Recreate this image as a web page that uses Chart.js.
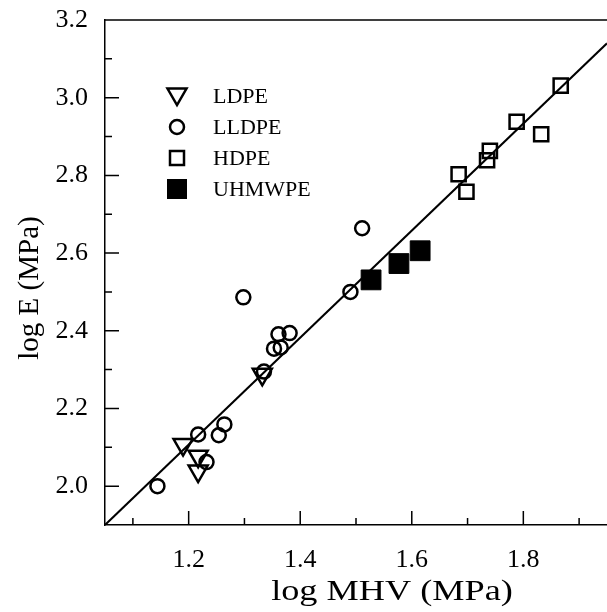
<!DOCTYPE html>
<html><head><meta charset="utf-8">
<script src="https://cdn.jsdelivr.net/npm/chart.js@4.4.0/dist/chart.umd.min.js"></script>
<style>html,body{margin:0;padding:0;background:#fff}#wrap{width:607px;height:612px}</style>
</head><body><div id="wrap"><canvas id="c" width="607" height="612"></canvas></div>
<script>
// ---- data (log MHV, log E) ----
const ldpeX = [1.190, 1.217, 1.217, 1.332];
const ldpeY = [2.107, 2.077, 2.039, 2.288];
const lldpeX = [1.144, 1.232, 1.217, 1.254, 1.264, 1.298, 1.353, 1.365, 1.361, 1.381, 1.490, 1.511, 1.335];
const lldpeY = [2.000, 2.062, 2.133, 2.131, 2.159, 2.486, 2.354, 2.357, 2.391, 2.394, 2.500, 2.664, 2.295];
const hdpeX = [1.684, 1.698, 1.735, 1.740, 1.788, 1.832, 1.867];
const hdpeY = [2.803, 2.758, 2.839, 2.863, 2.938, 2.906, 3.031];
const uhmwpeX = [1.527, 1.577, 1.615];
const uhmwpeY = [2.531, 2.573, 2.606];
const fitX = [1.05, 1.95];
const fitY = [1.90, 3.14];
const seriesNames = ['LDPE', 'LLDPE', 'HDPE', 'UHMWPE'];
const xTickValues = [1.1, 1.2, 1.3, 1.4, 1.5, 1.6, 1.7, 1.8, 1.9];
const xTickLabels = ['', '1.2', '', '1.4', '', '1.6', '', '1.8', ''];
const yTickValues = [2.0, 2.1, 2.2, 2.3, 2.4, 2.5, 2.6, 2.7, 2.8, 2.9, 3.0, 3.1, 3.2];
const yTickLabels = ['2.0', '', '2.2', '', '2.4', '', '2.6', '', '2.8', '', '3.0', '', '3.2'];
const xTitle = 'log MHV (MPa)';
const yTitle = 'log E (MPa)';

const pts = (xs, ys) => xs.map((x, i) => ({x: x, y: ys[i]}));
const FONT = '"Liberation Serif", "Times New Roman", serif';

const tickPlugin = {
  id: 'inTicks',
  afterDraw(chart) {
    const ctx = chart.ctx, ca = chart.chartArea;
    const xs = chart.scales.x, ys = chart.scales.y;
    ctx.save();
    ctx.strokeStyle = '#000';
    ctx.lineWidth = 1.5;
    ctx.beginPath();
    xTickValues.forEach((v, i) => {
      const p = xs.getPixelForValue(v);
      const len = xTickLabels[i] ? 14 : 7;
      ctx.moveTo(p, ca.bottom); ctx.lineTo(p, ca.bottom - len);
    });
    yTickValues.forEach((v, i) => {
      const p = ys.getPixelForValue(v);
      const len = yTickLabels[i] ? 14 : 7;
      ctx.moveTo(ca.left, p); ctx.lineTo(ca.left + len, p);
    });
    ctx.moveTo(ca.left, ca.top); ctx.lineTo(ca.right, ca.top);
    ctx.stroke();
    // axis titles
    ctx.fillStyle = '#000';
    ctx.textAlign = 'center';
    ctx.textBaseline = 'alphabetic';
    ctx.font = '29px ' + FONT;
    ctx.save();
    ctx.translate(392, 600);
    ctx.scale(1.25, 1);
    ctx.fillText(xTitle, 0, 0);
    ctx.restore();
    ctx.save();
    ctx.translate(38, 288);
    ctx.rotate(-Math.PI / 2);
    ctx.fillText(yTitle, 0, 0);
    ctx.restore();
    ctx.restore();
  }
};

const legendPlugin = {
  id: 'inLegend',
  afterDatasetsDraw(chart) {
    const ctx = chart.ctx;
    const mx = 177, tx = 213, y0 = 96, dy = 31;
    ctx.save();
    ctx.strokeStyle = '#000'; ctx.fillStyle = '#000'; ctx.lineWidth = 2.5;
    seriesNames.forEach((name, i) => {
      const y = y0 + i * dy;
      ctx.beginPath();
      if (i === 0) {
        const r = 11, cy = y - 2;
        ctx.moveTo(mx - r * 0.866, cy - r * 0.5);
        ctx.lineTo(mx + r * 0.866, cy - r * 0.5);
        ctx.lineTo(mx, cy + r);
        ctx.closePath(); ctx.stroke();
      } else if (i === 1) {
        ctx.arc(mx, y, 7, 0, Math.PI * 2); ctx.stroke();
      } else if (i === 2) {
        ctx.rect(mx - 7, y - 7, 14, 14); ctx.stroke();
      } else {
        ctx.rect(mx - 10, y - 10, 20, 20); ctx.fill();
      }
      ctx.font = '22px ' + FONT;
      ctx.textBaseline = 'middle';
      ctx.textAlign = 'left';
      ctx.fillText(name, tx, y + 1);
    });
    ctx.restore();
  }
};

new Chart(document.getElementById('c'), {
  type: 'scatter',
  data: {
    datasets: [
      { label: 'fit', type: 'line', data: pts(fitX, fitY), borderColor: '#000', borderWidth: 2,
        pointRadius: 0, fill: false, tension: 0, order: 5 },
      { label: seriesNames[0], data: pts(ldpeX, ldpeY), pointStyle: 'triangle', rotation: 180,
        pointRadius: 11, borderColor: '#000', borderWidth: 2.5, backgroundColor: 'rgba(0,0,0,0)' },
      { label: seriesNames[1], data: pts(lldpeX, lldpeY), pointStyle: 'circle',
        pointRadius: 7, borderColor: '#000', borderWidth: 2.5, backgroundColor: 'rgba(0,0,0,0)' },
      { label: seriesNames[2], data: pts(hdpeX, hdpeY), pointStyle: 'rect',
        pointRadius: 10, borderColor: '#000', borderWidth: 2.5, backgroundColor: 'rgba(0,0,0,0)' },
      { label: seriesNames[3], data: pts(uhmwpeX, uhmwpeY), pointStyle: 'rect',
        pointRadius: 14, borderColor: '#000', borderWidth: 1, backgroundColor: '#000' }
    ]
  },
  options: {
    responsive: false, animation: false, devicePixelRatio: 1,
    layout: { autoPadding: false, padding: { top: 20, right: 0, left: 0, bottom: 0 } },
    plugins: { legend: { display: false }, tooltip: { enabled: false } },
    scales: {
      x: {
        type: 'linear', min: 1.05, max: 1.95,
        afterBuildTicks: s => { s.ticks = xTickValues.map(v => ({ value: v })); },
        afterFit: s => { s.height = 87; s.paddingLeft = 0; s.paddingRight = 0; },
        ticks: { autoSkip: false, maxRotation: 0, color: '#000', padding: 20,
          font: { family: FONT, size: 26 },
          callback: (v, i) => xTickLabels[i] },
        grid: { display: false, drawTicks: false },
        border: { display: true, color: '#000', width: 1.5 },
        title: { display: false }
      },
      y: {
        type: 'linear', min: 1.9, max: 3.2,
        afterBuildTicks: s => { s.ticks = yTickValues.map(v => ({ value: v })); },
        afterFit: s => { s.width = 105; s.paddingTop = 0; s.paddingBottom = 0; },
        ticks: { autoSkip: false, color: '#000', padding: 17,
          font: { family: FONT, size: 26 },
          callback: (v, i) => yTickLabels[i] },
        grid: { display: false, drawTicks: false },
        border: { display: true, color: '#000', width: 1.5 },
        title: { display: false }
      }
    }
  },
  plugins: [tickPlugin, legendPlugin]
});
</script>
</body></html>
